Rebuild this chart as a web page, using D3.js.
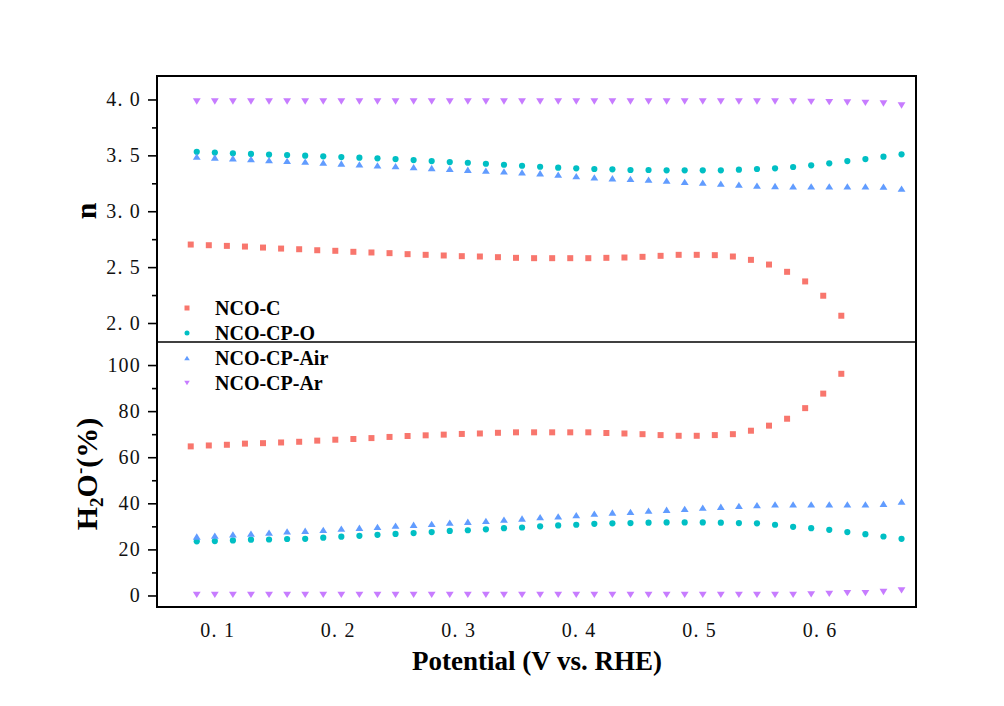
<!DOCTYPE html>
<html>
<head>
<meta charset="utf-8">
<script src="https://cdn.jsdelivr.net/npm/d3@7"></script>
<style>
  html, body { margin: 0; padding: 0; background: #ffffff; }
  svg { display: block; }
</style>
</head>
<body>
<svg id="chart" width="1004" height="706"></svg>
<script>
// Potential (V vs. RHE) for the NCO-CP samples and for NCO-C
const potentialCP = [0.083, 0.098, 0.113, 0.128, 0.143, 0.158, 0.173, 0.188, 0.203, 0.218,
  0.233, 0.248, 0.263, 0.278, 0.293, 0.308, 0.323, 0.338, 0.353, 0.368,
  0.383, 0.398, 0.413, 0.428, 0.443, 0.458, 0.473, 0.488, 0.503, 0.518,
  0.533, 0.548, 0.563, 0.578, 0.593, 0.608, 0.623, 0.638, 0.653, 0.668];
const potentialC = [0.078, 0.093, 0.108, 0.123, 0.138, 0.153, 0.168, 0.183, 0.198, 0.213,
  0.228, 0.243, 0.258, 0.273, 0.288, 0.303, 0.318, 0.333, 0.348, 0.363,
  0.378, 0.393, 0.408, 0.423, 0.438, 0.453, 0.468, 0.483, 0.498, 0.513,
  0.528, 0.543, 0.558, 0.573, 0.588, 0.603, 0.618];

// Electron transfer number n
const nC = [2.702, 2.696, 2.690, 2.684, 2.675, 2.666, 2.660, 2.651, 2.646, 2.637,
  2.631, 2.625, 2.616, 2.610, 2.604, 2.598, 2.595, 2.589, 2.583, 2.580,
  2.580, 2.580, 2.580, 2.583, 2.586, 2.592, 2.601, 2.610, 2.610, 2.607,
  2.595, 2.565, 2.523, 2.458, 2.372, 2.244, 2.065];
const nO = [3.532, 3.525, 3.519, 3.513, 3.507, 3.503, 3.497, 3.491, 3.485, 3.479,
  3.473, 3.467, 3.458, 3.449, 3.440, 3.434, 3.425, 3.416, 3.407, 3.398,
  3.390, 3.384, 3.378, 3.375, 3.369, 3.369, 3.366, 3.366, 3.366, 3.366,
  3.372, 3.378, 3.384, 3.396, 3.411, 3.429, 3.449, 3.467, 3.488, 3.509];
const nAir = [3.488, 3.481, 3.474, 3.466, 3.458, 3.450, 3.443, 3.435, 3.427, 3.419,
  3.411, 3.403, 3.395, 3.387, 3.379, 3.371, 3.364, 3.356, 3.348, 3.340,
  3.328, 3.315, 3.303, 3.295, 3.289, 3.283, 3.274, 3.262, 3.256, 3.247,
  3.238, 3.229, 3.226, 3.223, 3.223, 3.223, 3.223, 3.223, 3.220, 3.202];
const nAr = [3.982, 3.982, 3.982, 3.982, 3.982, 3.982, 3.982, 3.982, 3.982, 3.982,
  3.982, 3.982, 3.982, 3.982, 3.982, 3.982, 3.982, 3.982, 3.982, 3.982,
  3.982, 3.982, 3.982, 3.982, 3.982, 3.982, 3.982, 3.982, 3.982, 3.982,
  3.982, 3.982, 3.982, 3.982, 3.979, 3.976, 3.973, 3.970, 3.964, 3.946];

// Peroxide yield (%)
const pC = [64.7, 65.1, 65.4, 65.9, 66.1, 66.4, 66.7, 67.2, 67.6, 67.9,
  68.3, 68.8, 69.2, 69.5, 69.8, 70.1, 70.3, 70.6, 70.8, 70.8,
  70.8, 70.8, 70.8, 70.5, 70.3, 70.0, 69.6, 69.3, 69.3, 69.6,
  70.0, 71.5, 73.7, 76.7, 81.3, 87.6, 96.2];
const pO = [23.5, 23.6, 23.9, 24.2, 24.3, 24.5, 24.6, 25.1, 25.5, 25.9,
  26.3, 26.7, 27.1, 27.5, 28.0, 28.3, 28.7, 29.2, 29.5, 30.0,
  30.4, 30.7, 31.1, 31.3, 31.4, 31.6, 31.7, 31.7, 31.7, 31.6,
  31.4, 31.3, 30.7, 29.8, 29.2, 28.5, 27.5, 26.6, 25.6, 24.6];
const pAir = [25.6, 26.0, 26.5, 26.8, 27.3, 27.8, 28.1, 28.5, 29.0, 29.4,
  29.8, 30.3, 30.7, 31.1, 31.6, 32.0, 32.4, 32.9, 33.4, 34.0,
  34.3, 34.9, 35.5, 36.0, 36.3, 36.8, 37.2, 37.6, 38.1, 38.5,
  38.9, 39.2, 39.5, 39.5, 39.5, 39.5, 39.5, 39.5, 39.8, 40.7];
const pAr = [0.3, 0.3, 0.3, 0.3, 0.3, 0.3, 0.3, 0.3, 0.3, 0.3,
  0.3, 0.3, 0.3, 0.3, 0.3, 0.3, 0.3, 0.3, 0.3, 0.3,
  0.3, 0.3, 0.3, 0.3, 0.3, 0.3, 0.3, 0.3, 0.3, 0.3,
  0.3, 0.3, 0.3, 0.3, 0.5, 0.7, 1.0, 1.0, 1.5, 2.2];

const seriesNames = ["NCO-C", "NCO-CP-O", "NCO-CP-Air", "NCO-CP-Ar"];
const seriesColors = ["#F8766D", "#00BFC4", "#619CFF", "#C77CFF"];
const seriesShapes = ["square", "circle", "up", "down"];

const xTicks = [0.1, 0.2, 0.3, 0.4, 0.5, 0.6];
const nTicks = [2.0, 2.5, 3.0, 3.5, 4.0];
const nMinorTicks = [2.25, 2.75, 3.25, 3.75];
const pTicks = [0, 20, 40, 60, 80, 100];
const pMinorTicks = [10, 30, 50, 70, 90];

const series = [
  { x: potentialC, n: nC, p: pC },
  { x: potentialCP, n: nO, p: pO },
  { x: potentialCP, n: nAir, p: pAir },
  { x: potentialCP, n: nAr, p: pAr }
];

// Layout
const L = 157, R = 916, T = 76, M = 342, B = 607;
const svg = d3.select("#chart");
const serif = "'Liberation Serif', 'Times New Roman', serif";

const x = d3.scaleLinear().domain([0.05, 0.68]).range([L, R]);
const yN = d3.scaleLinear().domain([1.83, 4.21]).range([M, T]);
const yP = d3.scaleLinear().domain([-5, 110]).range([B, M]);

// Marker shapes, each centred on its bounding box
function shapeD(shape, s) {
  const h = s / 2;
  if (shape === "square") return `M${-h},${-h}h${s}v${s}h${-s}Z`;
  if (shape === "circle") return `M${h},0A${h},${h} 0 1,1 ${-h},0A${h},${h} 0 1,1 ${h},0Z`;
  const w = s * 0.56, t = s * 0.45;
  if (shape === "up") return `M0,${-t}L${w},${t}L${-w},${t}Z`;
  return `M0,${t}L${w},${-t}L${-w},${-t}Z`;
}
const markerSize = { square: 6, circle: 6.2, up: 7, down: 7 };

// Data markers
function drawPanel(yScale, key) {
  const g = svg.append("g");
  series.forEach((s, i) => {
    const pts = s.x.map((v, j) => [v, s[key][j]]);
    g.selectAll(null).data(pts).enter().append("path")
      .attr("d", shapeD(seriesShapes[i], markerSize[seriesShapes[i]]))
      .attr("transform", d => `translate(${x(d[0])},${yScale(d[1])})`)
      .attr("fill", seriesColors[i]);
  });
}
drawPanel(yN, "n");
drawPanel(yP, "p");

// Left axes with outward major and minor ticks
function fmt(v, digits) {
  return d3.format(digits)(v).replace(".", ". ");
}
function leftAxis(scale, ticks, minor, digits) {
  const g = svg.append("g").attr("transform", `translate(${L},0)`);
  g.call(d3.axisLeft(scale).tickValues(ticks).tickSize(9).tickPadding(7)
    .tickFormat(d => fmt(d, digits)));
  g.select(".domain").remove();
  g.selectAll(".tick line").attr("stroke", "#000").attr("stroke-width", 1.6);
  g.selectAll(".tick text").attr("font-family", serif).attr("font-size", 20)
    .attr("fill", "#111").attr("letter-spacing", "1.2px");
  const gm = svg.append("g").attr("transform", `translate(${L},0)`);
  gm.call(d3.axisLeft(scale).tickValues(minor).tickSize(5).tickFormat(""));
  gm.select(".domain").remove();
  gm.selectAll(".tick line").attr("stroke", "#000").attr("stroke-width", 1.6);
}
leftAxis(yN, nTicks, nMinorTicks, ".1f");
leftAxis(yP, pTicks, pMinorTicks, "d");

// Bottom tick labels (no tick marks)
const gx = svg.append("g").attr("transform", `translate(0,${B})`);
gx.call(d3.axisBottom(x).tickValues(xTicks).tickSize(0).tickPadding(16)
  .tickFormat(d => fmt(d, ".1f")));
gx.select(".domain").remove();
gx.selectAll(".tick text").attr("font-family", serif).attr("font-size", 20)
  .attr("fill", "#111").attr("letter-spacing", "1.2px");

// Frame and panel divider
svg.append("rect").attr("x", L).attr("y", T).attr("width", R - L).attr("height", B - T)
  .attr("fill", "none").attr("stroke", "#000").attr("stroke-width", 2);
svg.append("line").attr("x1", L).attr("x2", R).attr("y1", M).attr("y2", M)
  .attr("stroke", "#000").attr("stroke-width", 1.6);

// Axis titles
svg.append("text").attr("transform", "translate(96,211) rotate(-90)")
  .attr("text-anchor", "middle").attr("font-family", serif).attr("font-weight", "bold")
  .attr("font-size", 30).attr("fill", "#000").text("n");

const yt = svg.append("text").attr("transform", "translate(97,474) rotate(-90)")
  .attr("text-anchor", "middle").attr("font-family", serif).attr("font-weight", "bold")
  .attr("font-size", 30).attr("fill", "#000");
yt.append("tspan").text("H");
yt.append("tspan").attr("font-size", 19).attr("dy", 6).text("2");
yt.append("tspan").attr("dy", -6).text("O");
yt.append("tspan").attr("font-size", 19).attr("dy", -11).text("-");
yt.append("tspan").attr("dy", 11).text("(%)");

svg.append("text").attr("x", 537).attr("y", 670).attr("text-anchor", "middle")
  .attr("font-family", serif).attr("font-weight", "bold").attr("font-size", 27)
  .attr("fill", "#000").text("Potential (V vs. RHE)");

// Legend
const lg = svg.append("g");
seriesNames.forEach((name, i) => {
  const cy = 308 + i * 25;
  lg.append("path").attr("d", shapeD(seriesShapes[i], 5))
    .attr("transform", `translate(187,${cy})`).attr("fill", seriesColors[i]);
  lg.append("text").attr("x", 215).attr("y", cy + 6.5)
    .attr("font-family", serif).attr("font-weight", "bold").attr("font-size", 20)
    .attr("fill", "#000").text(name);
});
</script>
</body>
</html>
